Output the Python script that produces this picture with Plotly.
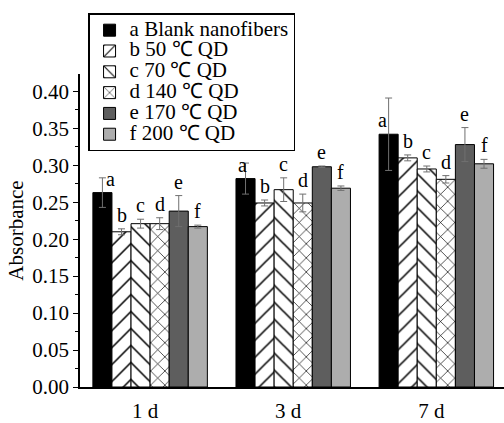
import plotly.graph_objects as go

categories = ["1 d", "3 d", "7 d"]
series_names = ["a Blank nanofibers", "b 50 ℃ QD", "c 70 ℃ QD",
                "d 140 ℃ QD", "e 170 ℃ QD", "f 200 ℃ QD"]
letters = ["a", "b", "c", "d", "e", "f"]

val_a = [0.263, 0.282, 0.342]
val_b = [0.210, 0.249, 0.310]
val_c = [0.221, 0.267, 0.295]
val_d = [0.221, 0.249, 0.281]
val_e = [0.238, 0.298, 0.328]
val_f = [0.217, 0.269, 0.302]

err_a = [0.020, 0.021, 0.049]
err_b = [0.004, 0.004, 0.004]
err_c = [0.006, 0.016, 0.004]
err_d = [0.008, 0.012, 0.005]
err_e = [0.021, 0.001, 0.023]
err_f = [0.002, 0.003, 0.006]

values = [val_a, val_b, val_c, val_d, val_e, val_f]
errors = [err_a, err_b, err_c, err_d, err_e, err_f]

# styles
FONT = "Liberation Serif"
fills = ["#000000", "#ffffff", "#ffffff", "#ffffff", "#5e5e5e", "#adadad"]
shapes = ["", "/", "\\", "x", "", ""]
pattern_size = [8, 12, 12, 10, 8, 8]
a_xshift = [8, -3, -6]

fig = go.Figure()
for i in range(6):
    fig.add_trace(go.Bar(
        x=categories, y=values[i],
        name='<span style="font-size:21px">' + series_names[i] + '</span>',
        marker=dict(color=fills[i],
                    line=dict(color="#000000", width=1),
                    pattern=dict(shape=shapes[i], fgcolor="#000000",
                                 bgcolor=fills[i], size=pattern_size[i],
                                 solidity=0.13, fillmode="replace")),
        error_y=dict(type="data", array=errors[i], color="#707070",
                     thickness=1, width=3.5),
    ))

n = 6
bw = 0.8 / n
for i in range(n):
    for g in range(len(categories)):
        xpos = g + (i - (n - 1) / 2) * bw
        if i == 0:
            ypos = values[i][g]
            xs = a_xshift[g]
        else:
            ypos = values[i][g] + errors[i][g]
            xs = 0
        fig.add_annotation(x=xpos, y=ypos, text=letters[i], showarrow=False,
                           xref="x", yref="y", yanchor="bottom", xshift=xs,
                           yshift=1, font=dict(family=FONT, size=20, color="#000"))

fig.update_layout(
    width=504, height=423,
    margin=dict(l=80, r=0, t=74, b=30),
    paper_bgcolor="white", plot_bgcolor="white",
    barmode="group", bargap=0.2, bargroupgap=0,
    font=dict(family=FONT, size=20, color="#000"),
    showlegend=True,
    legend=dict(x=0.019, y=1.194, xanchor="left", yanchor="top",
                xref="paper", yref="paper",
                bordercolor="#000", borderwidth=1.5, bgcolor="white",
                font=dict(family=FONT, size=13.7, color="#000"),
                tracegroupgap=0, itemwidth=30),
)
fig.update_xaxes(
    type="category", range=[-0.49, 2.473],
    showline=True, linecolor="#000", linewidth=1.5,
    ticks="", showgrid=False, zeroline=False,
    tickfont=dict(family=FONT, size=21), ticklabelshift=-5,
    ticklabelstandoff=4,
)
fig.update_yaxes(
    range=[0, 0.4235], dtick=0.05, tickformat=".2f",
    showline=True, linecolor="#000", linewidth=1.5,
    ticks="outside", ticklen=5, tickwidth=1, tickcolor="#000",
    minor=dict(dtick=0.025, ticks="outside", ticklen=3, tickcolor="#000", tickwidth=1),
    showgrid=False, zeroline=False,
    tickfont=dict(family=FONT, size=21),
    title=dict(text="Absorbance", font=dict(family=FONT, size=21), standoff=3),
)

fig.write_html("out.html")
